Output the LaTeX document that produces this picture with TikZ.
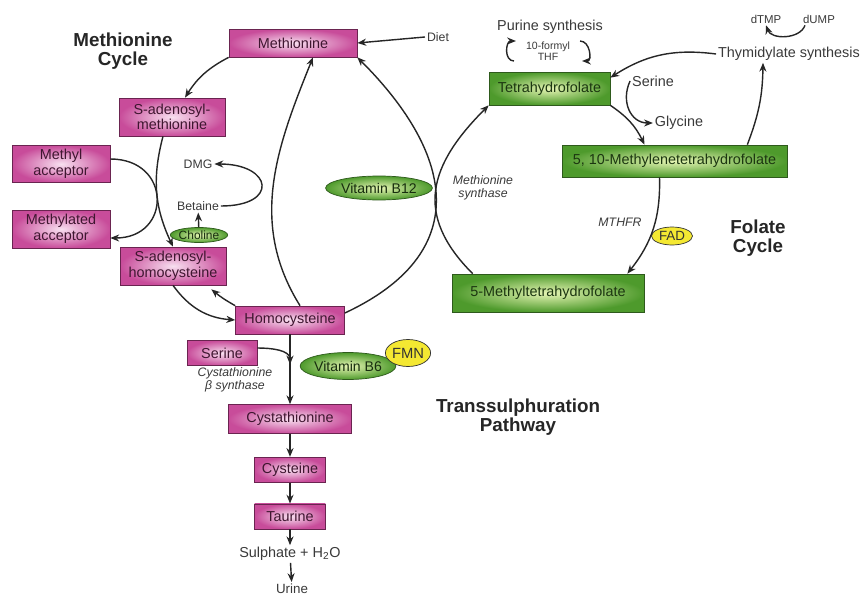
\documentclass[tikz,border=0pt]{standalone}
\usepackage{fontspec}
\setmainfont{Liberation Sans}
\usetikzlibrary{positioning,arrows.meta,calc,shapes.geometric}
\definecolor{magdark}{HTML}{C84C9A}
\definecolor{maglight}{HTML}{F8E0F0}
\definecolor{magedge}{HTML}{6A2450}
\definecolor{grndark}{HTML}{4E9A2C}
\definecolor{grnlight}{HTML}{E6F5B4}
\definecolor{grnedge}{HTML}{2E5A1C}
\definecolor{ylw}{HTML}{F4E832}
\definecolor{txt}{HTML}{3A3A3A}

\begin{document}
\begin{tikzpicture}[
    x=0.02cm, y=-0.02cm,
    mbox/.style={draw=magedge, inner color=maglight, outer color=magdark, align=center, font=\fontsize{8.2}{8.8}\selectfont, text=magedge!60!black, inner sep=1pt},
    gbox/.style={draw=grnedge, inner color=grnlight, outer color=grndark, align=center, font=\fontsize{8.2}{8.8}\selectfont, text=grnedge!60!black, inner sep=1pt},
    gell/.style={ellipse, draw=grnedge, inner color=grnlight, outer color=grndark, inner sep=0pt, text=grnedge!50!black},
    yell/.style={ellipse, draw=black!80, fill=ylw, inner sep=0pt, text=black!80},
    lbl/.style={text=txt, font=\fontsize{7}{8}\selectfont, align=center, inner sep=1pt},
    enz/.style={text=txt, font=\fontsize{7}{7.6}\selectfont\itshape, align=center, inner sep=1pt},
    title/.style={font=\fontsize{10.7}{10.6}\selectfont\bfseries, align=center, text=black!85},
    arr/.style={-{Stealth[length=5pt,width=4pt]}, line width=0.8pt, black!85}
  ]
    \fill[white] (0,0) rectangle (861,598);
    \useasboundingbox (0,0) rectangle (861,598);

    % methionine cycle
    \node[title] (metcyc) at (123,51) {Methionine\\Cycle};
    \node[mbox, minimum width=2.56cm, minimum height=0.56cm] (met) at (293,43) {Methionine};
    \node[lbl] (diet) at (438,37) {Diet};
    \node[mbox, minimum width=2.12cm, minimum height=0.76cm] (sam) at (172,117) {S-adenosyl-\\methionine};
    \node[mbox, minimum width=1.96cm, minimum height=0.74cm] (macc) at (61,164) {Methyl\\acceptor};
    \node[mbox, minimum width=1.96cm, minimum height=0.76cm] (mdacc) at (61,229) {Methylated\\acceptor};
    \node[mbox, minimum width=2.12cm, minimum height=0.76cm] (sah) at (173,266) {S-adenosyl-\\homocysteine};
    \node[lbl] (dmg) at (198,164) {DMG};
    \node[lbl] (bet) at (198,206) {Betaine};
    \node[gell, minimum width=0.98cm, minimum height=0.3cm, font=\fontsize{6.8}{7}\selectfont] (chol) at (199,235) {Choline};
    \node[gell, minimum width=1.84cm, minimum height=0.48cm, font=\fontsize{8}{9}\selectfont] (b12) at (379,188) {Vitamin B12};
    \node[mbox, minimum width=2.18cm, minimum height=0.56cm] (hcy) at (290,320) {Homocysteine};

    % transsulphuration
    \node[mbox, minimum width=1.4cm, minimum height=0.5cm] (ser) at (222,353) {Serine};
    \node[enz] (cbs) at (235,380) {Cystathionine\\β synthase};
    \node[gell, minimum width=1.8cm, minimum height=0.54cm, font=\fontsize{8}{9}\selectfont] (b6) at (348,366) {Vitamin B6};
    \node[yell, minimum width=0.82cm, minimum height=0.54cm, font=\fontsize{8.4}{9}\selectfont] (fmn) at (408,353) {FMN};
    \node[mbox, minimum width=2.46cm, minimum height=0.58cm] (cyst) at (290,419) {Cystathionine};
    \node[mbox, minimum width=1.42cm, minimum height=0.5cm, below=0.46cm of cyst] (cys) {Cysteine};
    \node[mbox, minimum width=1.42cm, minimum height=0.5cm, below=0.42cm of cys] (tau) {Taurine};
    \node[lbl, font=\fontsize{8.2}{9}\selectfont] (sulph) at (290,554) {Sulphate + H\textsubscript{2}O};
    \node[lbl, font=\fontsize{7.6}{9}\selectfont] (urine) at (292,589) {Urine};
    \node[title] (trans) at (518,417) {Transsulphuration\\Pathway};
    \coordinate (j) at ($(hcy.south)!0.43!(cyst.north)$);

    % folate cycle
    \node[lbl, font=\fontsize{8.2}{9}\selectfont] (pur) at (550,27) {Purine synthesis};
    \node[lbl, font=\fontsize{6}{6.4}\selectfont] (formyl) at (548,51) {10-formyl\\THF};
    \node[gbox, minimum width=2.42cm, minimum height=0.66cm] (thf) at (549.5,88.5) {Tetrahydrofolate};
    \node[lbl, font=\fontsize{8.2}{9}\selectfont] (thy) at (789,54) {Thymidylate synthesis};
    \node[lbl, font=\fontsize{6.5}{7}\selectfont] (dtmp) at (766,19) {dTMP};
    \node[lbl, font=\fontsize{6.5}{7}\selectfont] (dump) at (819,19) {dUMP};
    \node[lbl, font=\fontsize{8.2}{9}\selectfont] (serf) at (653,81) {Serine};
    \node[lbl, font=\fontsize{8.2}{9}\selectfont] (gly) at (679,123) {Glycine};
    \node[gbox, minimum width=4.5cm, minimum height=0.64cm] (mthf) at (674.5,161) {5, 10-Methylenetetrahydrofolate};
    \node[enz] (msyn) at (483,188) {Methionine\\synthase};
    \node[enz] (mthfr) at (620,222) {MTHFR};
    \node[yell, minimum width=0.82cm, minimum height=0.36cm, font=\fontsize{7.6}{8}\selectfont] (fad) at (672,236) {FAD};
    \node[title] (folcyc) at (758,238) {Folate\\Cycle};
    \node[gbox, minimum width=3.84cm, minimum height=0.76cm] (mtf5) at (548,293) {5-Methyltetrahydrofolate};

    % arrows, methionine side
    \draw[arr] (diet.west) -- (met.east);
    \draw[arr] (met.south west) to[bend right=15] ([xshift=0.26cm]sam.north);
    \draw[arr] ([xshift=-0.18cm]sam.south) to[bend right=20] (sah.north);
    \draw[arr] ([yshift=0.1cm]macc.east) to[out=0,in=0,looseness=2] ([yshift=-0.18cm]mdacc.east);
    \draw[arr] (bet.east) to[out=0,in=0,looseness=3.5] (dmg.east);
    \draw[arr] (chol) -- (bet);
    \draw[arr] ([xshift=0.2cm]hcy.north) to[out=122,in=-112] ([xshift=0.4cm]met.south);
    \draw[arr] ([yshift=0.14cm]hcy.east) to[out=25,in=-45,looseness=1.4] (met.south east);
    \draw[arr] (sah.south) to[bend right=25] (hcy.west);
    \draw[arr] (hcy.north west) to[bend left=5] ([shift={(-0.3cm,-0.08cm)}]sah.south east);

    % arrows, transsulphuration
    \draw[arr] (hcy) -- (cyst);
    \draw[arr] ([yshift=0.1cm]ser.east) to[out=0,in=90] (j);
    \draw[arr] (cyst) -- (cys);
    \draw[arr] (cys) -- (tau);
    \draw[arr] (tau) -- (sulph);
    \draw[arr] (sulph) -- (urine);

    % arrows, folate side
    \draw[arr] ([xshift=0.42cm]mtf5.north west) to[out=135,in=-135,looseness=1.27] (thf.south west);
    \draw[arr] (thy.west) to[bend right=20] ([yshift=-0.12cm]thf.north east);
    \draw[arr] ([xshift=-0.8cm]mthf.north east) to[bend right=10] ([xshift=-0.52cm]thy.south);
    \draw[arr] ([xshift=-0.28cm]dump.south) to[bend left=70] (dtmp.south);
    \draw[arr] ([shift={(-0.2cm,-0.2cm)}]formyl.west) to[out=180,in=180,looseness=1.3] ([shift={(-0.16cm,0.2cm)}]formyl.west);
    \draw[arr] ([shift={(0.16cm,0.2cm)}]formyl.east) to[out=0,in=0,looseness=1.3] ([shift={(0.2cm,-0.2cm)}]formyl.east);
    \draw[arr] (thf.south east) to[bend left=15] ([xshift=-0.6cm]mthf.north);
    \draw[arr] (serf.west) to[out=-115,in=180,looseness=1.2] (gly.west);
    \draw[arr] ([xshift=-0.3cm]mthf.south) to[bend left=20] ([xshift=-0.34cm]mtf5.north east);
\end{tikzpicture}
\end{document}
